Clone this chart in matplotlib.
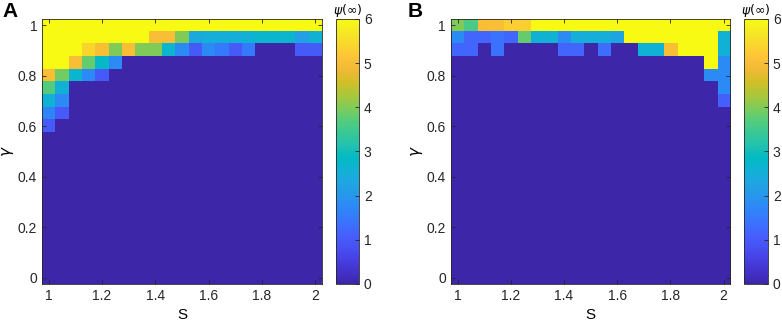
import numpy as np
import matplotlib
matplotlib.use("Agg")
import matplotlib.pyplot as plt
from matplotlib.colors import LinearSegmentedColormap

plt.rcParams["font.family"] = ["Liberation Sans", "DejaVu Sans"]

# grid axes
s_values = [1.00, 1.05, 1.10, 1.15, 1.20, 1.25, 1.30, 1.35, 1.40, 1.45, 1.50,
            1.55, 1.60, 1.65, 1.70, 1.75, 1.80, 1.85, 1.90, 1.95, 2.00]
gamma_values = [1.00, 0.95, 0.90, 0.85, 0.80, 0.75, 0.70, 0.65, 0.60, 0.55, 0.50,
                0.45, 0.40, 0.35, 0.30, 0.25, 0.20, 0.15, 0.10, 0.05, 0.00]

x_ticks = [1, 1.2, 1.4, 1.6, 1.8, 2]
y_ticks = [0, 0.2, 0.4, 0.6, 0.8, 1]
cbar_ticks = [0, 1, 2, 3, 4, 5, 6]

# psi(inf) values, rows follow gamma_values (top row = gamma 1)
psi_a = [
    [6, 6, 6, 6, 6, 6, 6, 6, 6, 6, 6, 6, 6, 6, 6, 6, 6, 6, 6, 6, 6],
    [6, 6, 6, 6, 6, 6, 6, 6, 5.0, 5.0, 4.0, 2.4, 2.5, 2.5, 2.5, 2.6, 2.7, 2.7, 2.7, 2.2, 2.6],
    [6, 6, 6, 5.4, 5.0, 4.0, 5.0, 4.0, 4.0, 2.7, 1.8, 1.0, 1.8, 1.5, 1.0, 1.5, 0, 0, 0, 1.0, 1.0],
    [6, 6, 5.0, 3.8, 2.8, 1.8, 0, 0, 0, 0, 0, 0, 0, 0, 0, 0, 0, 0, 0, 0, 0],
    [5.0, 3.9, 2.7, 1.8, 1.0, 0, 0, 0, 0, 0, 0, 0, 0, 0, 0, 0, 0, 0, 0, 0, 0],
    [3.7, 2.6, 0, 0, 0, 0, 0, 0, 0, 0, 0, 0, 0, 0, 0, 0, 0, 0, 0, 0, 0],
    [2.6, 1.8, 0, 0, 0, 0, 0, 0, 0, 0, 0, 0, 0, 0, 0, 0, 0, 0, 0, 0, 0],
    [1.7, 1.0, 0, 0, 0, 0, 0, 0, 0, 0, 0, 0, 0, 0, 0, 0, 0, 0, 0, 0, 0],
    [1.0, 0, 0, 0, 0, 0, 0, 0, 0, 0, 0, 0, 0, 0, 0, 0, 0, 0, 0, 0, 0],
    [0, 0, 0, 0, 0, 0, 0, 0, 0, 0, 0, 0, 0, 0, 0, 0, 0, 0, 0, 0, 0],
    [0, 0, 0, 0, 0, 0, 0, 0, 0, 0, 0, 0, 0, 0, 0, 0, 0, 0, 0, 0, 0],
    [0, 0, 0, 0, 0, 0, 0, 0, 0, 0, 0, 0, 0, 0, 0, 0, 0, 0, 0, 0, 0],
    [0, 0, 0, 0, 0, 0, 0, 0, 0, 0, 0, 0, 0, 0, 0, 0, 0, 0, 0, 0, 0],
    [0, 0, 0, 0, 0, 0, 0, 0, 0, 0, 0, 0, 0, 0, 0, 0, 0, 0, 0, 0, 0],
    [0, 0, 0, 0, 0, 0, 0, 0, 0, 0, 0, 0, 0, 0, 0, 0, 0, 0, 0, 0, 0],
    [0, 0, 0, 0, 0, 0, 0, 0, 0, 0, 0, 0, 0, 0, 0, 0, 0, 0, 0, 0, 0],
    [0, 0, 0, 0, 0, 0, 0, 0, 0, 0, 0, 0, 0, 0, 0, 0, 0, 0, 0, 0, 0],
    [0, 0, 0, 0, 0, 0, 0, 0, 0, 0, 0, 0, 0, 0, 0, 0, 0, 0, 0, 0, 0],
    [0, 0, 0, 0, 0, 0, 0, 0, 0, 0, 0, 0, 0, 0, 0, 0, 0, 0, 0, 0, 0],
    [0, 0, 0, 0, 0, 0, 0, 0, 0, 0, 0, 0, 0, 0, 0, 0, 0, 0, 0, 0, 0],
    [0, 0, 0, 0, 0, 0, 0, 0, 0, 0, 0, 0, 0, 0, 0, 0, 0, 0, 0, 0, 0],
]

psi_b = [
    [4.0, 3.6, 5.0, 5.0, 5.3, 5.3, 6, 6, 6, 6, 6, 6, 6, 6, 6, 6, 6, 6, 6, 6, 6],
    [1.8, 1.2, 1.2, 1.4, 1.2, 3.8, 2.6, 2.6, 1.8, 2.5, 2.5, 2.5, 2.3, 6, 6, 6, 6, 6, 6, 6, 2.6],
    [1.2, 1.2, 0, 1.4, 0, 0, 0, 0, 1.2, 1.2, 0, 1.3, 0, 0, 2.6, 2.6, 5.0, 6, 6, 6, 2.6],
    [0, 0, 0, 0, 0, 0, 0, 0, 0, 0, 0, 0, 0, 0, 0, 0, 0, 0, 0, 6, 1.8],
    [0, 0, 0, 0, 0, 0, 0, 0, 0, 0, 0, 0, 0, 0, 0, 0, 0, 0, 0, 1.8, 1.8],
    [0, 0, 0, 0, 0, 0, 0, 0, 0, 0, 0, 0, 0, 0, 0, 0, 0, 0, 0, 0, 1.8],
    [0, 0, 0, 0, 0, 0, 0, 0, 0, 0, 0, 0, 0, 0, 0, 0, 0, 0, 0, 0, 1.1],
    [0, 0, 0, 0, 0, 0, 0, 0, 0, 0, 0, 0, 0, 0, 0, 0, 0, 0, 0, 0, 0],
    [0, 0, 0, 0, 0, 0, 0, 0, 0, 0, 0, 0, 0, 0, 0, 0, 0, 0, 0, 0, 0],
    [0, 0, 0, 0, 0, 0, 0, 0, 0, 0, 0, 0, 0, 0, 0, 0, 0, 0, 0, 0, 0],
    [0, 0, 0, 0, 0, 0, 0, 0, 0, 0, 0, 0, 0, 0, 0, 0, 0, 0, 0, 0, 0],
    [0, 0, 0, 0, 0, 0, 0, 0, 0, 0, 0, 0, 0, 0, 0, 0, 0, 0, 0, 0, 0],
    [0, 0, 0, 0, 0, 0, 0, 0, 0, 0, 0, 0, 0, 0, 0, 0, 0, 0, 0, 0, 0],
    [0, 0, 0, 0, 0, 0, 0, 0, 0, 0, 0, 0, 0, 0, 0, 0, 0, 0, 0, 0, 0],
    [0, 0, 0, 0, 0, 0, 0, 0, 0, 0, 0, 0, 0, 0, 0, 0, 0, 0, 0, 0, 0],
    [0, 0, 0, 0, 0, 0, 0, 0, 0, 0, 0, 0, 0, 0, 0, 0, 0, 0, 0, 0, 0],
    [0, 0, 0, 0, 0, 0, 0, 0, 0, 0, 0, 0, 0, 0, 0, 0, 0, 0, 0, 0, 0],
    [0, 0, 0, 0, 0, 0, 0, 0, 0, 0, 0, 0, 0, 0, 0, 0, 0, 0, 0, 0, 0],
    [0, 0, 0, 0, 0, 0, 0, 0, 0, 0, 0, 0, 0, 0, 0, 0, 0, 0, 0, 0, 0],
    [0, 0, 0, 0, 0, 0, 0, 0, 0, 0, 0, 0, 0, 0, 0, 0, 0, 0, 0, 0, 0],
    [0, 0, 0, 0, 0, 0, 0, 0, 0, 0, 0, 0, 0, 0, 0, 0, 0, 0, 0, 0, 0],
]

# MATLAB parula (approximate anchors)
parula_colors = [
    (0.2422, 0.1504, 0.6603), (0.2647, 0.1978, 0.7952), (0.2783, 0.2559, 0.8991),
    (0.2810, 0.3228, 0.9579), (0.2699, 0.3892, 0.9906), (0.2206, 0.4603, 0.9973),
    (0.1786, 0.5289, 0.9682), (0.1540, 0.5902, 0.9218), (0.1248, 0.6459, 0.8883),
    (0.0689, 0.6948, 0.8394), (0.0067, 0.7312, 0.7660), (0.1408, 0.7584, 0.6842),
    (0.2161, 0.7843, 0.5923), (0.3406, 0.8008, 0.4789), (0.5044, 0.7993, 0.3480),
    (0.6720, 0.7793, 0.2227), (0.8203, 0.7498, 0.1535), (0.9393, 0.7288, 0.2100),
    (0.9970, 0.7659, 0.2199), (0.9786, 0.8386, 0.1766), (0.9597, 0.9135, 0.1423),
    (0.9769, 0.9839, 0.0805),
]
parula = LinearSegmentedColormap.from_list("parula", parula_colors, N=256)

fig = plt.figure(figsize=(7.82, 3.26), dpi=100)

# letter, data, axes rect, colorbar rect, letter x
panels = [
    ("A", psi_a, [0.0537, 0.129, 0.358, 0.813], [0.4297, 0.129, 0.0294, 0.813], 0.003),
    ("B", psi_b, [0.5767, 0.129, 0.357, 0.813], [0.9514, 0.129, 0.0307, 0.813], 0.521),
]

ds = s_values[1] - s_values[0]
dg = gamma_values[0] - gamma_values[1]
extent = [min(s_values) - ds / 2, max(s_values) + ds / 2,
          min(gamma_values) - dg / 2, max(gamma_values) + dg / 2]

for letter, data, ax_pos, cb_pos, lx in panels:
    ax = fig.add_axes(ax_pos)
    im = ax.imshow(np.array(data), cmap=parula, vmin=0, vmax=6, extent=extent,
                   origin="upper", aspect="auto", interpolation="nearest")
    ax.set_xticks(x_ticks)
    ax.set_xticklabels(["1", "1.2", "1.4", "1.6", "1.8", "2"])
    ax.set_yticks(y_ticks)
    ax.set_yticklabels(["0", "0.2", "0.4", "0.6", "0.8", "1"])
    ax.tick_params(direction="in", length=3, width=0.6, labelsize=10,
                   top=True, right=True, colors="#262626")
    for sp in ax.spines.values():
        sp.set_color("#262626")
        sp.set_linewidth(0.6)
    ax.set_xlabel("S", fontsize=11, labelpad=4)
    ax.set_ylabel(r"$\gamma$", fontsize=11, labelpad=1)
    fig.text(lx, 0.995, letter, fontsize=15, fontweight="bold",
             va="top", ha="left")

    cax = fig.add_axes(cb_pos)
    cb = fig.colorbar(im, cax=cax, ticks=cbar_ticks)
    cb.ax.tick_params(direction="in", length=3, width=0.6, labelsize=10,
                      colors="#262626")
    cb.outline.set_linewidth(0.6)
    cb.outline.set_edgecolor("#262626")
    cax.set_title(r"$\psi(\infty)$", fontsize=9, pad=3)

fig.savefig("out.png", dpi=100)
